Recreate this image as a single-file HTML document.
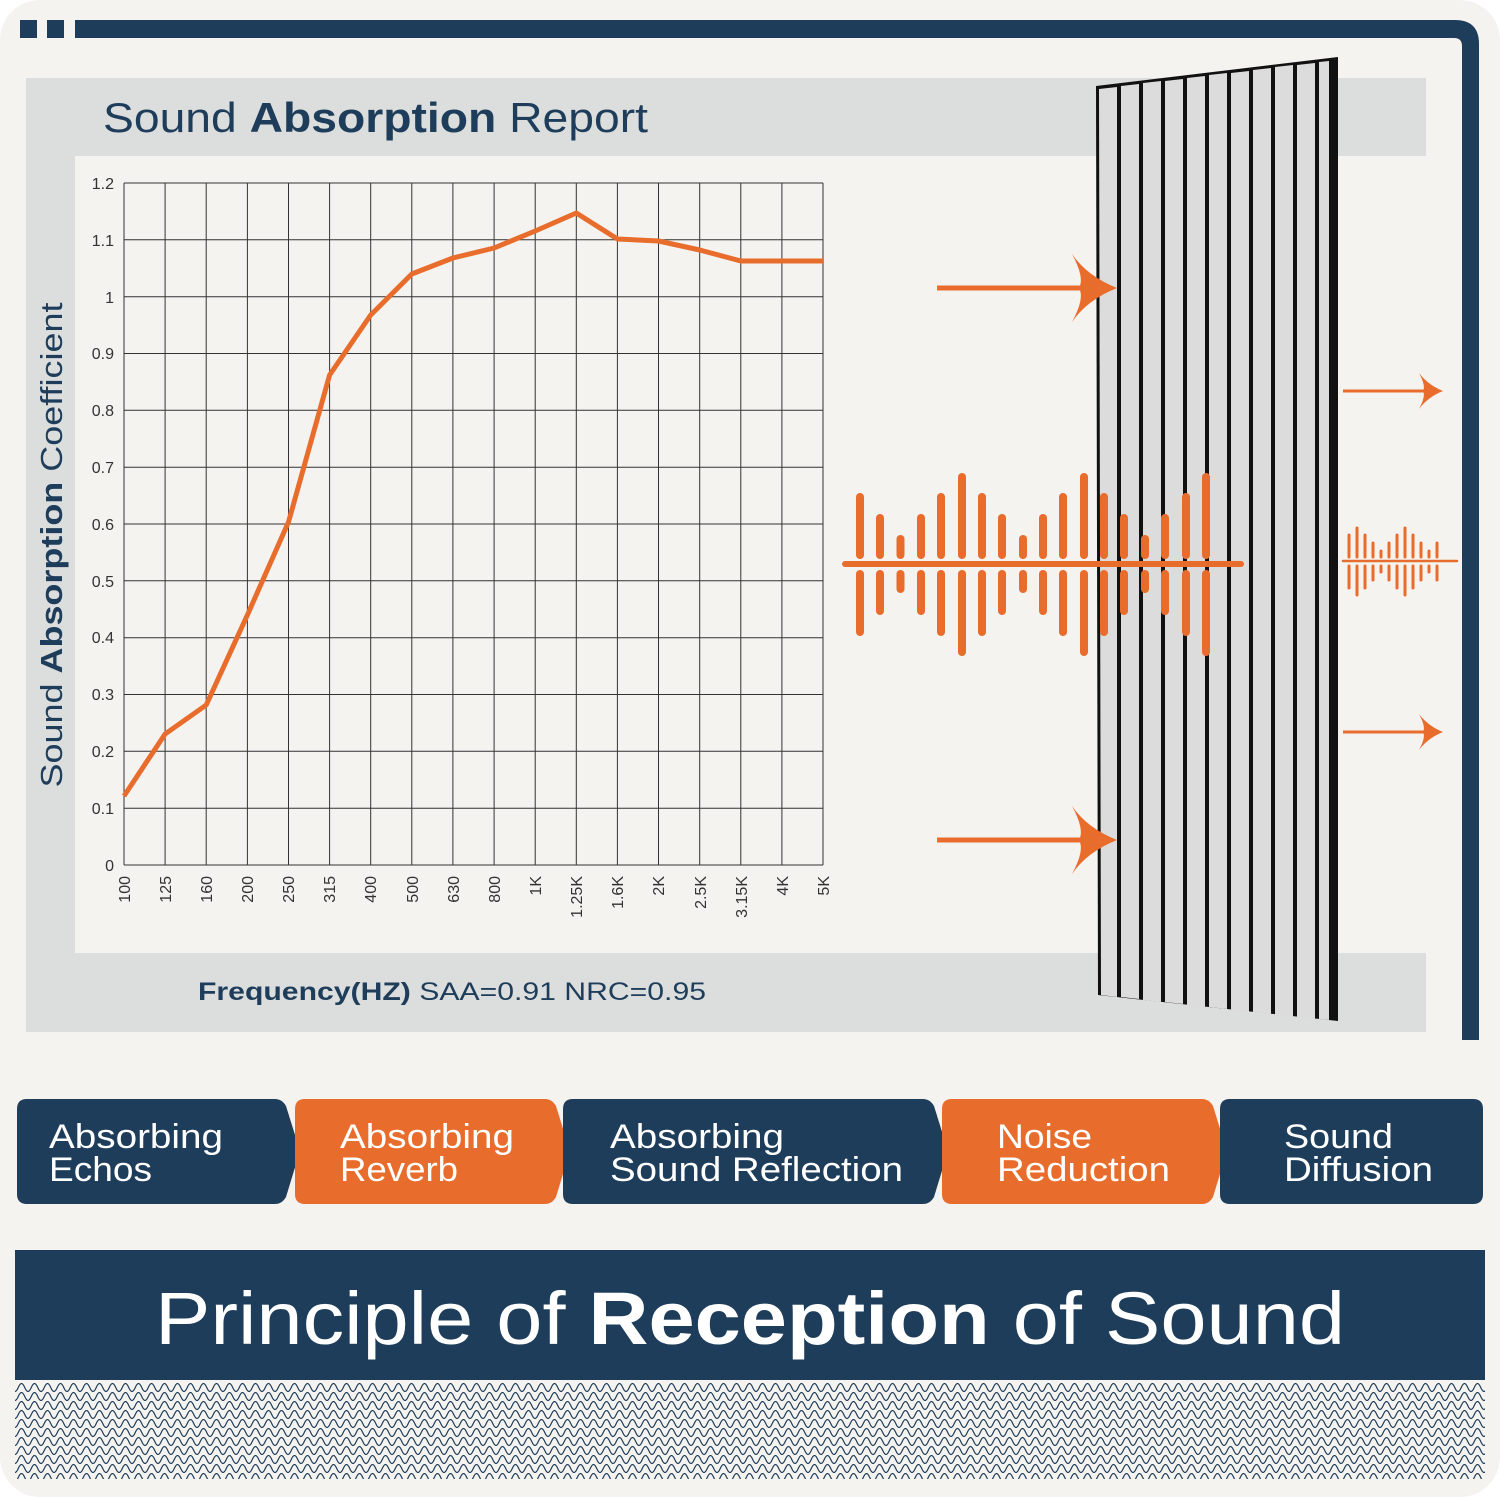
<!DOCTYPE html>
<html><head><meta charset="utf-8"><style>
html,body{margin:0;padding:0;background:#fff;}
svg{display:block;}
text{font-family:"Liberation Sans",sans-serif;}
</style></head><body>
<svg width="1500" height="1497" viewBox="0 0 1500 1497" xmlns="http://www.w3.org/2000/svg">
<defs>
<pattern id="net" x="15" y="1383" width="13" height="9" patternUnits="userSpaceOnUse">
<path d="M0 8.5 C3 8.5 3.5 0.5 6.5 0.5 C9.5 0.5 10 8.5 13 8.5" fill="none" stroke="#1e3d5a" stroke-width="1.2"/>
</pattern>
<g id="arrowhead"><path d="M0 0 Q-30 -12 -45 -34 Q-32 -10 -38 0 Q-32 10 -45 34 Q-30 12 0 0Z" fill="#e86d2d"/></g>
<g id="sarrow"><path d="M0 0 Q-15 -6 -24 -18 Q-17 -5 -20 0 Q-17 5 -24 18 Q-15 6 0 0Z" fill="#e86d2d"/></g>
</defs>
<rect x="0" y="0" width="1500" height="1497" rx="40" fill="#f5f3ef"/>
<rect x="20" y="20" width="17" height="18" fill="#1e3d5a"/>
<rect x="47" y="20" width="17" height="18" fill="#1e3d5a"/>
<path d="M75 20 H1455 Q1479 20 1479 44 V1040 H1462 V46 Q1462 38 1454 38 H75Z" fill="#1e3d5a"/>
<rect x="26" y="78" width="1400" height="78" fill="#dcdddd"/>
<rect x="26" y="78" width="49" height="954" fill="#dcdddd"/>
<rect x="26" y="953" width="1400" height="79" fill="#dcdddd"/>
<rect x="75" y="156" width="1040" height="797" fill="#f5f3ef"/>
<text x="103" y="132" font-size="42" fill="#1e3d5a" textLength="545" lengthAdjust="spacingAndGlyphs">Sound <tspan font-weight="bold">Absorption</tspan> Report</text>
<text transform="translate(62,545) rotate(-90)" text-anchor="middle" font-size="31" fill="#1e3d5a" textLength="485" lengthAdjust="spacingAndGlyphs">Sound <tspan font-weight="bold">Absorption</tspan> Coefficient</text>
<g stroke="#333" stroke-width="1">
<line x1="124" y1="183" x2="124" y2="865"/><line x1="165.1" y1="183" x2="165.1" y2="865"/><line x1="206.2" y1="183" x2="206.2" y2="865"/><line x1="247.4" y1="183" x2="247.4" y2="865"/><line x1="288.5" y1="183" x2="288.5" y2="865"/><line x1="329.6" y1="183" x2="329.6" y2="865"/><line x1="370.7" y1="183" x2="370.7" y2="865"/><line x1="411.8" y1="183" x2="411.8" y2="865"/><line x1="452.9" y1="183" x2="452.9" y2="865"/><line x1="494.1" y1="183" x2="494.1" y2="865"/><line x1="535.2" y1="183" x2="535.2" y2="865"/><line x1="576.3" y1="183" x2="576.3" y2="865"/><line x1="617.4" y1="183" x2="617.4" y2="865"/><line x1="658.5" y1="183" x2="658.5" y2="865"/><line x1="699.7" y1="183" x2="699.7" y2="865"/><line x1="740.8" y1="183" x2="740.8" y2="865"/><line x1="781.9" y1="183" x2="781.9" y2="865"/><line x1="823" y1="183" x2="823" y2="865"/>
<line x1="124" y1="183" x2="823" y2="183"/><line x1="124" y1="239.8" x2="823" y2="239.8"/><line x1="124" y1="296.7" x2="823" y2="296.7"/><line x1="124" y1="353.5" x2="823" y2="353.5"/><line x1="124" y1="410.3" x2="823" y2="410.3"/><line x1="124" y1="467.2" x2="823" y2="467.2"/><line x1="124" y1="524" x2="823" y2="524"/><line x1="124" y1="580.8" x2="823" y2="580.8"/><line x1="124" y1="637.7" x2="823" y2="637.7"/><line x1="124" y1="694.5" x2="823" y2="694.5"/><line x1="124" y1="751.3" x2="823" y2="751.3"/><line x1="124" y1="808.2" x2="823" y2="808.2"/><line x1="124" y1="865" x2="823" y2="865"/>
</g>
<g font-size="16" fill="#333" text-anchor="end">
<text x="114" y="189">1.2</text><text x="114" y="246">1.1</text><text x="114" y="303">1</text><text x="114" y="359">0.9</text><text x="114" y="416">0.8</text><text x="114" y="473">0.7</text><text x="114" y="530">0.6</text><text x="114" y="587">0.5</text><text x="114" y="643">0.4</text><text x="114" y="700">0.3</text><text x="114" y="757">0.2</text><text x="114" y="814">0.1</text><text x="114" y="871">0</text>
</g>
<g font-size="16" fill="#333" text-anchor="end">
<text transform="translate(130,876) rotate(-90)">100</text><text transform="translate(171,876) rotate(-90)">125</text><text transform="translate(212,876) rotate(-90)">160</text><text transform="translate(253,876) rotate(-90)">200</text><text transform="translate(294,876) rotate(-90)">250</text><text transform="translate(335,876) rotate(-90)">315</text><text transform="translate(376,876) rotate(-90)">400</text><text transform="translate(418,876) rotate(-90)">500</text><text transform="translate(459,876) rotate(-90)">630</text><text transform="translate(500,876) rotate(-90)">800</text><text transform="translate(541,876) rotate(-90)">1K</text><text transform="translate(582,876) rotate(-90)">1.25K</text><text transform="translate(623,876) rotate(-90)">1.6K</text><text transform="translate(664,876) rotate(-90)">2K</text><text transform="translate(706,876) rotate(-90)">2.5K</text><text transform="translate(747,876) rotate(-90)">3.15K</text><text transform="translate(788,876) rotate(-90)">4K</text><text transform="translate(829,876) rotate(-90)">5K</text>
</g>
<polyline fill="none" stroke="#e86d2d" stroke-width="5" stroke-linejoin="round" points="124,796 165.1,734 206.2,705 247.4,615 288.5,522 329.6,375 370.7,315 411.8,274 452.9,258 494.1,248 535.2,231 576.3,213 617.4,239 658.5,241 699.7,250 740.8,261 781.9,261 823,261"/>
<text x="198" y="1000" font-size="25" fill="#1e3d5a" textLength="508" lengthAdjust="spacingAndGlyphs"><tspan font-weight="bold">Frequency(HZ)</tspan>  SAA=0.91  NRC=0.95</text>
<!-- panel -->
<polygon points="1096,86 1338,57 1338,1021 1098,995" fill="#111"/>
<g fill="#dcdcdc">
<polygon points="1099,89 1117,87 1117,997 1101,995"/>
<polygon points="1121,86 1139,84 1139,999 1121,997"/>
<polygon points="1143,83 1161,81 1161,1002 1143,1000"/>
<polygon points="1165,81 1183,79 1183,1004 1165,1002"/>
<polygon points="1187,78 1205,76 1205,1007 1187,1005"/>
<polygon points="1209,75 1227,73 1227,1009 1209,1007"/>
<polygon points="1231,73 1249,71 1249,1012 1231,1010"/>
<polygon points="1253,70 1271,68 1271,1014 1253,1012"/>
<polygon points="1275,67 1293,65 1293,1017 1275,1015"/>
<polygon points="1297,65 1315,63 1315,1019 1297,1017"/>
<polygon points="1319,62 1329,61 1329,1020 1319,1019"/>
</g>
<line x1="937" y1="288" x2="1100" y2="288" stroke="#e86d2d" stroke-width="5"/>
<use href="#arrowhead" x="1117" y="288"/>
<line x1="937" y1="840" x2="1100" y2="840" stroke="#e86d2d" stroke-width="5"/>
<use href="#arrowhead" x="1117" y="840"/>
<line x1="1343" y1="391" x2="1435" y2="391" stroke="#e86d2d" stroke-width="3"/>
<use href="#sarrow" x="1443" y="391"/>
<line x1="1343" y1="732" x2="1435" y2="732" stroke="#e86d2d" stroke-width="3"/>
<use href="#sarrow" x="1443" y="732"/>
<g stroke="#e86d2d" stroke-width="8" stroke-linecap="round">
<line x1="845" y1="564" x2="1241" y2="564" stroke-width="6"/>
<line x1="860" y1="497" x2="860" y2="555"/><line x1="860" y1="574" x2="860" y2="632"/>
<line x1="880" y1="518" x2="880" y2="555"/><line x1="880" y1="574" x2="880" y2="611"/>
<line x1="900.5" y1="539" x2="900.5" y2="555"/><line x1="900.5" y1="574" x2="900.5" y2="589"/>
<line x1="921" y1="518" x2="921" y2="555"/><line x1="921" y1="574" x2="921" y2="611"/>
<line x1="941" y1="497" x2="941" y2="555"/><line x1="941" y1="574" x2="941" y2="632"/>
<line x1="962" y1="477" x2="962" y2="555"/><line x1="962" y1="574" x2="962" y2="652"/>
<line x1="982" y1="497" x2="982" y2="555"/><line x1="982" y1="574" x2="982" y2="632"/>
<line x1="1002" y1="518" x2="1002" y2="555"/><line x1="1002" y1="574" x2="1002" y2="611"/>
<line x1="1023" y1="539" x2="1023" y2="555"/><line x1="1023" y1="574" x2="1023" y2="589"/>
<line x1="1043" y1="518" x2="1043" y2="555"/><line x1="1043" y1="574" x2="1043" y2="611"/>
<line x1="1063" y1="497" x2="1063" y2="555"/><line x1="1063" y1="574" x2="1063" y2="632"/>
<line x1="1084" y1="477" x2="1084" y2="555"/><line x1="1084" y1="574" x2="1084" y2="652"/>
<line x1="1104" y1="497" x2="1104" y2="555"/><line x1="1104" y1="574" x2="1104" y2="632"/>
<line x1="1124" y1="518" x2="1124" y2="555"/><line x1="1124" y1="574" x2="1124" y2="611"/>
<line x1="1145" y1="539" x2="1145" y2="555"/><line x1="1145" y1="574" x2="1145" y2="589"/>
<line x1="1165" y1="518" x2="1165" y2="555"/><line x1="1165" y1="574" x2="1165" y2="611"/>
<line x1="1186" y1="497" x2="1186" y2="555"/><line x1="1186" y1="574" x2="1186" y2="632"/>
<line x1="1206" y1="477" x2="1206" y2="555"/><line x1="1206" y1="574" x2="1206" y2="652"/>
</g>
<g stroke="#e86d2d" stroke-width="3" stroke-linecap="round">
<line x1="1343" y1="561" x2="1457" y2="561" stroke-width="2.5"/>
<line x1="1349" y1="535" x2="1349" y2="557"/><line x1="1349" y1="566" x2="1349" y2="588"/>
<line x1="1357" y1="528" x2="1357" y2="557"/><line x1="1357" y1="566" x2="1357" y2="595"/>
<line x1="1365" y1="535" x2="1365" y2="557"/><line x1="1365" y1="566" x2="1365" y2="588"/>
<line x1="1373" y1="543" x2="1373" y2="557"/><line x1="1373" y1="566" x2="1373" y2="580"/>
<line x1="1381" y1="551" x2="1381" y2="557"/><line x1="1381" y1="566" x2="1381" y2="572"/>
<line x1="1389" y1="543" x2="1389" y2="557"/><line x1="1389" y1="566" x2="1389" y2="580"/>
<line x1="1397" y1="535" x2="1397" y2="557"/><line x1="1397" y1="566" x2="1397" y2="588"/>
<line x1="1405" y1="528" x2="1405" y2="557"/><line x1="1405" y1="566" x2="1405" y2="595"/>
<line x1="1413" y1="535" x2="1413" y2="557"/><line x1="1413" y1="566" x2="1413" y2="588"/>
<line x1="1421" y1="543" x2="1421" y2="557"/><line x1="1421" y1="566" x2="1421" y2="580"/>
<line x1="1429" y1="551" x2="1429" y2="557"/><line x1="1429" y1="566" x2="1429" y2="572"/>
<line x1="1437" y1="543" x2="1437" y2="557"/><line x1="1437" y1="566" x2="1437" y2="580"/>
</g>
<path d="M27 1099 H275 Q282 1099 286 1106 L300 1151 L286 1197 Q282 1204 275 1204 H27 Q17 1204 17 1194 V1109 Q17 1099 27 1099Z" fill="#1e3d5a"/>
<path d="M305 1099 H545 Q552 1099 556 1106 L570 1151 L556 1197 Q552 1204 545 1204 H305 Q295 1204 295 1194 V1109 Q295 1099 305 1099Z" fill="#e86d2d"/>
<path d="M573 1099 H923 Q930 1099 934 1106 L948 1151 L934 1197 Q930 1204 923 1204 H573 Q563 1204 563 1194 V1109 Q563 1099 573 1099Z" fill="#1e3d5a"/>
<path d="M952 1099 H1202 Q1209 1099 1213 1106 L1227 1151 L1213 1197 Q1209 1204 1202 1204 H952 Q942 1204 942 1194 V1109 Q942 1099 952 1099Z" fill="#e86d2d"/>
<path d="M1230 1099 H1473 Q1483 1099 1483 1109 V1194 Q1483 1204 1473 1204 H1230 Q1220 1204 1220 1194 V1109 Q1220 1099 1230 1099Z" fill="#1e3d5a"/>
<g font-size="34" fill="#fff" lengthAdjust="spacingAndGlyphs">
<text x="49" y="1148" textLength="174" lengthAdjust="spacingAndGlyphs">Absorbing</text><text x="49" y="1181" textLength="103" lengthAdjust="spacingAndGlyphs">Echos</text>
<text x="340" y="1148" textLength="174" lengthAdjust="spacingAndGlyphs">Absorbing</text><text x="340" y="1181" textLength="118" lengthAdjust="spacingAndGlyphs">Reverb</text>
<text x="610" y="1148" textLength="174" lengthAdjust="spacingAndGlyphs">Absorbing</text><text x="610" y="1181" textLength="293" lengthAdjust="spacingAndGlyphs">Sound Reflection</text>
<text x="997" y="1148" textLength="95" lengthAdjust="spacingAndGlyphs">Noise</text><text x="997" y="1181" textLength="173" lengthAdjust="spacingAndGlyphs">Reduction</text>
<text x="1284" y="1148" textLength="109" lengthAdjust="spacingAndGlyphs">Sound</text><text x="1284" y="1181" textLength="149" lengthAdjust="spacingAndGlyphs">Diffusion</text>
</g>
<rect x="15" y="1250" width="1470" height="130" fill="#1e3d5a"/>
<text x="155" y="1344" font-size="74" fill="#fff" textLength="1190" lengthAdjust="spacingAndGlyphs">Principle of <tspan font-weight="bold">Reception</tspan> of Sound</text>
<rect x="15" y="1383" width="1470" height="96" fill="url(#net)"/>
</svg>
</body></html>
